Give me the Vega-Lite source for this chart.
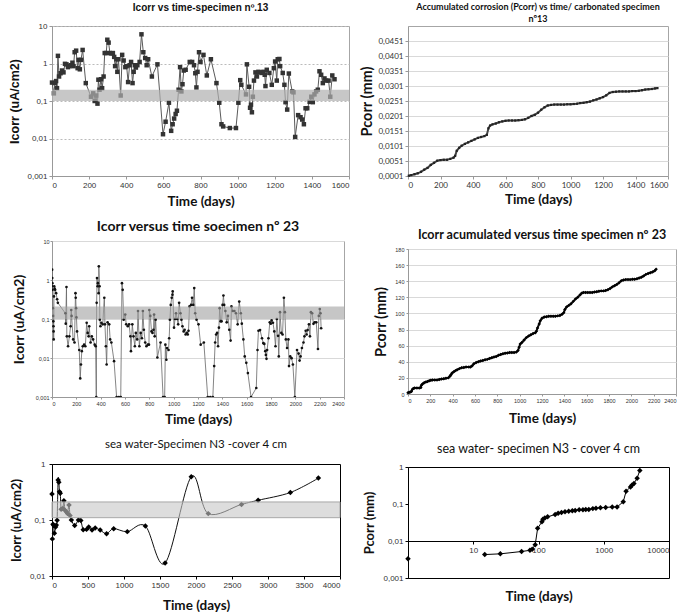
{
  "$schema": "https://vega.github.io/schema/vega-lite/v6.json",
  "padding": {"left": 8, "top": 2, "right": 0, "bottom": 0},
  "background": "white",
  "config": {
    "view": {"stroke": "#a6a6a6", "strokeWidth": 1},
    "axis": {"labelFont": "Liberation Sans", "labelFontSize": 8, "labelColor": "#333", "tickColor": "#999", "domainColor": "#999", "tickSize": 3, "labelPadding": 2, "titleFont": "Lato", "titleFontWeight": "bold", "titleFontSize": 13.5, "titleColor": "#111", "grid": false},
    "title": {"font": "Lato", "fontWeight": "bold", "color": "#111", "frame": "group", "anchor": "middle"}
  },
  "columns": 2,
  "spacing": 9,
  "align": "none",
  "bounds": "full",
  "concat": [
    {
      "columns": 1,
      "spacing": 11,
      "align": "none",
      "bounds": "full",
      "concat": [
        {
          "width": 297, "height": 150,
          "title": {"text": "Icorr vs time-specimen  nº.13", "font": "Liberation Sans", "fontSize": 10, "offset": 9},
          "data": {"values": [
            {"d":0,"v":0.31},{"d":10,"v":0.16},{"d":16,"v":0.3},{"d":22,"v":0.34},{"d":27,"v":0.22},{"d":32,"v":1.6},{"d":38,"v":0.45},{"d":46,"v":0.55},{"d":54,"v":0.65},{"d":62,"v":0.58},{"d":70,"v":0.98},{"d":78,"v":0.95},{"d":86,"v":0.8},{"d":94,"v":0.85},{"d":102,"v":0.9},{"d":110,"v":1.05},{"d":116,"v":0.85},{"d":122,"v":2.0},{"d":130,"v":2.2},{"d":138,"v":0.75},{"d":143,"v":1.25},{"d":150,"v":0.7},{"d":156,"v":1.25},{"d":165,"v":2.3},{"d":182,"v":0.3},{"d":210,"v":0.13},{"d":222,"v":0.16},{"d":230,"v":0.1},{"d":238,"v":0.14},{"d":245,"v":0.085},{"d":250,"v":0.37},{"d":256,"v":0.2},{"d":264,"v":0.38},{"d":270,"v":0.22},{"d":278,"v":0.45},{"d":284,"v":1.9},{"d":292,"v":1.9},{"d":298,"v":4.3},{"d":305,"v":3.6},{"d":312,"v":1.9},{"d":320,"v":1.85},{"d":328,"v":1.9},{"d":335,"v":1.5},{"d":340,"v":0.85},{"d":347,"v":1.3},{"d":352,"v":0.6},{"d":358,"v":1.3},{"d":370,"v":0.14},{"d":378,"v":1.7},{"d":386,"v":1.2},{"d":395,"v":0.8},{"d":402,"v":0.85},{"d":410,"v":0.32},{"d":418,"v":0.9},{"d":426,"v":1.1},{"d":434,"v":0.3},{"d":440,"v":0.6},{"d":446,"v":0.9},{"d":452,"v":0.78},{"d":460,"v":0.9},{"d":472,"v":1.1},{"d":482,"v":6.0},{"d":492,"v":2.0},{"d":502,"v":1.4},{"d":510,"v":0.9},{"d":518,"v":1.3},{"d":538,"v":0.45},{"d":568,"v":0.95},{"d":598,"v":0.013},{"d":612,"v":0.028},{"d":630,"v":0.09},{"d":642,"v":0.016},{"d":650,"v":0.024},{"d":658,"v":0.034},{"d":666,"v":0.045},{"d":673,"v":0.055},{"d":682,"v":0.2},{"d":690,"v":0.8},{"d":697,"v":0.18},{"d":703,"v":0.28},{"d":710,"v":0.65},{"d":720,"v":0.68},{"d":742,"v":1.1},{"d":755,"v":1.1},{"d":765,"v":0.9},{"d":772,"v":0.55},{"d":778,"v":0.23},{"d":784,"v":0.6},{"d":792,"v":2.0},{"d":800,"v":1.1},{"d":816,"v":1.7},{"d":834,"v":0.48},{"d":856,"v":1.3},{"d":886,"v":0.3},{"d":901,"v":0.09},{"d":913,"v":0.024},{"d":922,"v":0.021},{"d":958,"v":0.019},{"d":991,"v":0.019},{"d":1004,"v":0.09},{"d":1014,"v":0.36},{"d":1020,"v":0.27},{"d":1045,"v":0.15},{"d":1050,"v":0.95},{"d":1062,"v":0.24},{"d":1067,"v":0.066},{"d":1072,"v":0.08},{"d":1077,"v":0.05},{"d":1082,"v":0.13},{"d":1088,"v":0.35},{"d":1096,"v":0.58},{"d":1104,"v":0.45},{"d":1112,"v":0.6},{"d":1120,"v":0.58},{"d":1130,"v":0.56},{"d":1139,"v":0.6},{"d":1146,"v":0.5},{"d":1150,"v":0.25},{"d":1157,"v":0.68},{"d":1171,"v":0.56},{"d":1184,"v":0.27},{"d":1195,"v":0.75},{"d":1202,"v":1.13},{"d":1211,"v":0.35},{"d":1216,"v":1.3},{"d":1225,"v":1.32},{"d":1229,"v":0.85},{"d":1243,"v":0.56},{"d":1252,"v":0.27},{"d":1258,"v":0.093},{"d":1267,"v":0.059},{"d":1276,"v":0.54},{"d":1294,"v":0.18},{"d":1301,"v":0.17},{"d":1310,"v":0.011},{"d":1326,"v":0.042},{"d":1339,"v":0.037},{"d":1348,"v":0.032},{"d":1357,"v":0.024},{"d":1366,"v":0.064},{"d":1375,"v":0.064},{"d":1388,"v":0.095},{"d":1397,"v":0.13},{"d":1405,"v":0.093},{"d":1414,"v":0.15},{"d":1423,"v":0.18},{"d":1432,"v":0.2},{"d":1441,"v":0.62},{"d":1450,"v":0.5},{"d":1459,"v":0.3},{"d":1468,"v":0.4},{"d":1477,"v":0.35},{"d":1490,"v":0.35},{"d":1499,"v":0.13},{"d":1510,"v":0.48},{"d":1522,"v":0.38}
          ]},
          "encoding": {
            "x": {"field": "d", "type": "quantitative", "title": "Time (days)", "scale": {"domain": [0, 1600], "nice": false}, "axis": {"values": [0,200,400,600,800,1000,1200,1400,1600], "format": "d", "titlePadding": 5}},
            "y": {"field": "v", "type": "quantitative", "title": "Icorr (uA/cm2)", "scale": {"type": "log", "domain": [0.001, 10]}, "axis": {"values": [0.001,0.01,0.1,1,10], "labelExpr": "replace(toString(datum.value), '.', ',')", "grid": true, "gridDash": [2,2], "gridColor": "#bbbbbb", "titleFont": "Liberation Sans", "titleFontSize": 12.5, "titlePadding": 5}}
          },
          "layer": [
            {"mark": {"type": "line", "color": "#5a5a5a", "strokeWidth": 1}},
            {"mark": {"type": "point", "shape": "square", "filled": true, "size": 20, "color": "#333333", "opacity": 1}},
            {"data": {"values": [{"x0": 0, "x1": 1600, "lo": 0.1, "hi": 0.2}]},
             "mark": {"type": "rect", "color": "#afafaf", "opacity": 0.7},
             "encoding": {"x": {"field": "x0", "type": "quantitative", "title": "Time (days)"}, "x2": {"field": "x1"}, "y": {"field": "lo", "type": "quantitative", "title": "Icorr (uA/cm2)"}, "y2": {"field": "hi"}}}
          ]
        },
        {
          "width": 292, "height": 156,
          "title": {"text": "Icorr versus time soecimen nº 23", "fontSize": 14, "offset": 5},
          "data": {"values": [
            {"d":0,"v":0.69},{"d":1,"v":1.84},{"d":2,"v":1.12},{"d":3,"v":0.83},{"d":5,"v":0.56},{"d":7,"v":0.19},{"d":9,"v":0.12},{"d":11,"v":0.087},{"d":12,"v":0.065},{"d":13,"v":0.048},{"d":14,"v":0.03},{"d":16,"v":0.38},{"d":18,"v":0.69},{"d":22,"v":0.6},{"d":26,"v":0.56},{"d":34,"v":0.46},{"d":42,"v":0.32},{"d":48,"v":0.26},{"d":110,"v":0.14},{"d":113,"v":0.076},{"d":119,"v":0.66},{"d":122,"v":0.036},{"d":132,"v":0.02},{"d":143,"v":0.036},{"d":153,"v":0.065},{"d":158,"v":0.17},{"d":161,"v":0.12},{"d":174,"v":0.03},{"d":185,"v":0.025},{"d":193,"v":0.46},{"d":195,"v":0.35},{"d":198,"v":0.19},{"d":201,"v":0.11},{"d":206,"v":0.048},{"d":224,"v":0.016},{"d":232,"v":0.003},{"d":238,"v":0.0068},{"d":245,"v":0.015},{"d":253,"v":0.02},{"d":264,"v":0.022},{"d":274,"v":0.02},{"d":285,"v":0.08},{"d":293,"v":0.044},{"d":301,"v":0.036},{"d":306,"v":0.065},{"d":317,"v":0.025},{"d":327,"v":0.036},{"d":338,"v":0.03},{"d":351,"v":0.022},{"d":359,"v":0.02},{"d":364,"v":0.001},{"d":367,"v":0.26},{"d":370,"v":1.12},{"d":375,"v":0.69},{"d":377,"v":0.83},{"d":383,"v":0.46},{"d":385,"v":2.24},{"d":391,"v":0.69},{"d":393,"v":0.096},{"d":398,"v":0.065},{"d":406,"v":0.08},{"d":417,"v":0.073},{"d":430,"v":0.35},{"d":435,"v":0.073},{"d":443,"v":0.02},{"d":449,"v":0.0068},{"d":457,"v":0.082},{"d":470,"v":0.073},{"d":478,"v":0.03},{"d":488,"v":0.025},{"d":510,"v":0.0083},{"d":531,"v":0.001},{"d":549,"v":0.001},{"d":565,"v":0.001},{"d":575,"v":0.83},{"d":581,"v":0.56},{"d":589,"v":0.096},{"d":602,"v":0.13},{"d":610,"v":0.073},{"d":623,"v":0.065},{"d":634,"v":0.073},{"d":644,"v":0.036},{"d":649,"v":0.015},{"d":660,"v":0.073},{"d":670,"v":0.036},{"d":681,"v":0.02},{"d":689,"v":0.044},{"d":700,"v":0.03},{"d":707,"v":0.16},{"d":718,"v":0.02},{"d":729,"v":0.044},{"d":739,"v":0.032},{"d":747,"v":0.16},{"d":755,"v":0.053},{"d":766,"v":0.025},{"d":776,"v":0.02},{"d":787,"v":0.022},{"d":797,"v":0.022},{"d":800,"v":0.17},{"d":808,"v":0.12},{"d":818,"v":0.048},{"d":826,"v":0.044},{"d":834,"v":0.053},{"d":839,"v":0.13},{"d":844,"v":0.036},{"d":852,"v":0.096},{"d":866,"v":0.0103},{"d":892,"v":0.025},{"d":913,"v":0.001},{"d":926,"v":0.001},{"d":932,"v":0.022},{"d":940,"v":0.009},{"d":945,"v":0.018},{"d":958,"v":0.016},{"d":963,"v":0.032},{"d":969,"v":0.096},{"d":976,"v":0.23},{"d":984,"v":0.35},{"d":990,"v":0.42},{"d":992,"v":0.51},{"d":1003,"v":0.06},{"d":1011,"v":0.1},{"d":1019,"v":0.14},{"d":1029,"v":0.1},{"d":1037,"v":0.073},{"d":1045,"v":0.26},{"d":1056,"v":0.14},{"d":1064,"v":0.096},{"d":1072,"v":0.065},{"d":1082,"v":0.048},{"d":1090,"v":0.053},{"d":1098,"v":0.04},{"d":1108,"v":0.044},{"d":1116,"v":0.04},{"d":1122,"v":0.05},{"d":1130,"v":0.21},{"d":1143,"v":0.23},{"d":1151,"v":0.35},{"d":1161,"v":0.23},{"d":1169,"v":0.62},{"d":1177,"v":0.14},{"d":1188,"v":0.096},{"d":1204,"v":0.073},{"d":1222,"v":0.022},{"d":1248,"v":0.025},{"d":1280,"v":0.001},{"d":1301,"v":0.001},{"d":1322,"v":0.001},{"d":1333,"v":0.0062},{"d":1341,"v":0.025},{"d":1349,"v":0.04},{"d":1357,"v":0.044},{"d":1365,"v":0.02},{"d":1372,"v":0.06},{"d":1378,"v":0.19},{"d":1386,"v":0.087},{"d":1394,"v":0.087},{"d":1402,"v":0.23},{"d":1409,"v":0.4},{"d":1415,"v":0.23},{"d":1425,"v":0.16},{"d":1436,"v":0.082},{"d":1446,"v":0.12},{"d":1457,"v":0.053},{"d":1468,"v":0.028},{"d":1475,"v":0.21},{"d":1486,"v":0.16},{"d":1499,"v":0.16},{"d":1512,"v":0.14},{"d":1526,"v":0.073},{"d":1539,"v":0.28},{"d":1552,"v":0.14},{"d":1560,"v":0.076},{"d":1573,"v":0.03},{"d":1584,"v":0.011},{"d":1597,"v":0.0075},{"d":1610,"v":0.0041},{"d":1636,"v":0.001},{"d":1679,"v":0.0017},{"d":1689,"v":0.016},{"d":1697,"v":0.05},{"d":1710,"v":0.052},{"d":1726,"v":0.032},{"d":1737,"v":0.024},{"d":1745,"v":0.023},{"d":1753,"v":0.015},{"d":1758,"v":0.012},{"d":1763,"v":0.0095},{"d":1768,"v":0.016},{"d":1779,"v":0.032},{"d":1790,"v":0.082},{"d":1798,"v":0.076},{"d":1805,"v":0.092},{"d":1816,"v":0.08},{"d":1827,"v":0.048},{"d":1837,"v":0.02},{"d":1848,"v":0.1},{"d":1858,"v":0.037},{"d":1864,"v":0.011},{"d":1874,"v":0.15},{"d":1885,"v":0.044},{"d":1895,"v":0.04},{"d":1906,"v":0.35},{"d":1914,"v":0.15},{"d":1922,"v":0.03},{"d":1932,"v":0.018},{"d":1943,"v":0.03},{"d":1948,"v":0.0062},{"d":1958,"v":0.011},{"d":1969,"v":0.0099},{"d":1980,"v":0.0068},{"d":1996,"v":0.001},{"d":2014,"v":0.016},{"d":2027,"v":0.013},{"d":2035,"v":0.0086},{"d":2043,"v":0.011},{"d":2054,"v":0.018},{"d":2067,"v":0.025},{"d":2075,"v":0.036},{"d":2085,"v":0.05},{"d":2093,"v":0.04},{"d":2101,"v":0.052},{"d":2112,"v":0.073},{"d":2120,"v":0.036},{"d":2128,"v":0.15},{"d":2138,"v":0.14},{"d":2149,"v":0.075},{"d":2159,"v":0.082},{"d":2172,"v":0.082},{"d":2186,"v":0.017},{"d":2193,"v":0.12},{"d":2201,"v":0.18},{"d":2207,"v":0.14},{"d":2212,"v":0.058}
          ]},
          "encoding": {
            "x": {"field": "d", "type": "quantitative", "title": "Time (days)", "scale": {"domain": [0, 2400], "nice": false}, "axis": {"values": [0,200,400,600,800,1000,1200,1400,1600,1800,2000,2200,2400], "format": "d", "labelFontSize": 5.5, "tickSize": 2, "titlePadding": 6}},
            "y": {"field": "v", "type": "quantitative", "title": "Icorr (uA/cm2)", "scale": {"type": "log", "domain": [0.001, 10]}, "axis": {"values": [0.001,0.01,0.1,1,10], "labelExpr": "replace(toString(datum.value), '.', ',')", "labelFontSize": 5.5, "labelPadding": 1, "tickSize": 2, "grid": true, "gridColor": "#d9d9d9", "titleFontSize": 14, "titlePadding": 9}}
          },
          "layer": [
            {"mark": {"type": "line", "color": "#666666", "strokeWidth": 0.8, "clip": true}},
            {"mark": {"type": "point", "shape": "circle", "filled": true, "size": 7, "color": "#111111", "opacity": 1, "clip": true}},
            {"data": {"values": [{"x0": 0, "x1": 2400, "lo": 0.1, "hi": 0.21}]},
             "mark": {"type": "rect", "color": "#a0a0a0", "opacity": 0.6},
             "encoding": {"x": {"field": "x0", "type": "quantitative", "title": "Time (days)"}, "x2": {"field": "x1"}, "y": {"field": "lo", "type": "quantitative", "title": "Icorr (uA/cm2)"}, "y2": {"field": "hi"}}}
          ]
        },
        {
          "width": 288, "height": 112,
          "view": {"stroke": "#000000"},
          "title": {"text": "sea water-Specimen N3 -cover 4 cm", "fontSize": 11.5, "fontWeight": "normal", "offset": 10},
          "data": {"values": [
            {"d":0,"v":0.29},{"d":5,"v":0.046},{"d":14,"v":0.084},{"d":25,"v":0.08},{"d":33,"v":0.058},{"d":50,"v":0.075},{"d":60,"v":0.081},{"d":71,"v":0.099},{"d":85,"v":0.52},{"d":95,"v":0.47},{"d":104,"v":0.32},{"d":115,"v":0.3},{"d":127,"v":0.156},{"d":150,"v":0.16},{"d":165,"v":0.22},{"d":180,"v":0.15},{"d":200,"v":0.14},{"d":215,"v":0.13},{"d":236,"v":0.185},{"d":250,"v":0.12},{"d":269,"v":0.1},{"d":315,"v":0.08},{"d":367,"v":0.1},{"d":400,"v":0.098},{"d":433,"v":0.067},{"d":480,"v":0.068},{"d":510,"v":0.075},{"d":556,"v":0.066},{"d":600,"v":0.072},{"d":669,"v":0.066},{"d":758,"v":0.057},{"d":857,"v":0.07},{"d":1046,"v":0.062},{"d":1297,"v":0.078},{"d":1571,"v":0.017},{"d":1934,"v":0.59},{"d":2170,"v":0.13},{"d":2632,"v":0.19},{"d":2863,"v":0.225},{"d":3311,"v":0.31},{"d":3700,"v":0.56}
          ]},
          "encoding": {
            "x": {"field": "d", "type": "quantitative", "title": "Time (days)", "scale": {"domain": [0, 4000], "nice": false}, "axis": {"values": [0,500,1000,1500,2000,2500,3000,3500,4000], "format": "d", "domainColor": "#000", "tickColor": "#000", "titlePadding": 9}},
            "y": {"field": "v", "type": "quantitative", "title": "Icorr (uA/cm2)", "scale": {"type": "log", "domain": [0.01, 1]}, "axis": {"values": [0.01,0.1,1], "labelExpr": "replace(toString(datum.value), '.', ',')", "domainColor": "#000", "tickColor": "#000", "labelPadding": 4, "titleFontSize": 13, "titlePadding": 6}}
          },
          "layer": [
            {"mark": {"type": "line", "color": "#111111", "strokeWidth": 1, "interpolate": "cardinal", "clip": true}},
            {"mark": {"type": "point", "shape": "diamond", "filled": true, "size": 30, "color": "#000000", "opacity": 1}},
            {"data": {"values": [{"x0": 0, "x1": 4000, "lo": 0.11, "hi": 0.21}]},
             "mark": {"type": "rect", "fill": "#c6c6c6", "fillOpacity": 0.6, "stroke": "#a8a8a8", "strokeWidth": 1},
             "encoding": {"x": {"field": "x0", "type": "quantitative", "title": "Time (days)"}, "x2": {"field": "x1"}, "y": {"field": "lo", "type": "quantitative", "title": "Icorr (uA/cm2)"}, "y2": {"field": "hi"}}}
          ]
        }
      ]
    },
    {
      "columns": 1,
      "spacing": 73,
      "align": "none",
      "bounds": "flush",
      "concat": [
        {
          "width": 260, "height": 150,
          "title": {"text": ["Accumulated corrosion (Pcorr) vs time/ carbonated specimen", "nº13"], "fontSize": 9, "lineHeight": 12, "offset": 2},
          "data": {"values": [
            {"d":5,"v":0.0002},{"d":20,"v":0.0004},{"d":40,"v":0.0007},{"d":60,"v":0.001},{"d":80,"v":0.0015},{"d":100,"v":0.0022},{"d":120,"v":0.0028},{"d":140,"v":0.0038},{"d":160,"v":0.0045},{"d":180,"v":0.0052},{"d":200,"v":0.0054},{"d":220,"v":0.0055},{"d":240,"v":0.0055},{"d":260,"v":0.0058},{"d":280,"v":0.0062},{"d":290,"v":0.0068},{"d":300,"v":0.0085},{"d":315,"v":0.0095},{"d":330,"v":0.0102},{"d":350,"v":0.0108},{"d":370,"v":0.0113},{"d":390,"v":0.0118},{"d":410,"v":0.0123},{"d":430,"v":0.0128},{"d":450,"v":0.0131},{"d":470,"v":0.0134},{"d":485,"v":0.0138},{"d":495,"v":0.016},{"d":505,"v":0.0169},{"d":520,"v":0.0173},{"d":540,"v":0.0176},{"d":560,"v":0.018},{"d":580,"v":0.0183},{"d":600,"v":0.0185},{"d":620,"v":0.0186},{"d":640,"v":0.0186},{"d":660,"v":0.0186},{"d":680,"v":0.0187},{"d":700,"v":0.0188},{"d":720,"v":0.019},{"d":740,"v":0.0195},{"d":760,"v":0.0201},{"d":780,"v":0.0205},{"d":800,"v":0.0212},{"d":820,"v":0.0222},{"d":840,"v":0.023},{"d":860,"v":0.0236},{"d":880,"v":0.0238},{"d":900,"v":0.0239},{"d":920,"v":0.0239},{"d":940,"v":0.0239},{"d":960,"v":0.0239},{"d":980,"v":0.024},{"d":1000,"v":0.024},{"d":1020,"v":0.0241},{"d":1040,"v":0.0242},{"d":1060,"v":0.0244},{"d":1080,"v":0.0245},{"d":1100,"v":0.0247},{"d":1120,"v":0.0249},{"d":1140,"v":0.0253},{"d":1160,"v":0.0256},{"d":1180,"v":0.026},{"d":1200,"v":0.0264},{"d":1220,"v":0.027},{"d":1240,"v":0.0278},{"d":1260,"v":0.0281},{"d":1280,"v":0.0282},{"d":1300,"v":0.0283},{"d":1320,"v":0.0283},{"d":1340,"v":0.0283},{"d":1360,"v":0.0283},{"d":1380,"v":0.0284},{"d":1400,"v":0.0284},{"d":1420,"v":0.0285},{"d":1440,"v":0.0287},{"d":1460,"v":0.0289},{"d":1480,"v":0.029},{"d":1500,"v":0.0291},{"d":1520,"v":0.0293},{"d":1535,"v":0.0294}
          ]},
          "encoding": {
            "x": {"field": "d", "type": "quantitative", "title": "Time (days)", "scale": {"domain": [0, 1600], "nice": false}, "axis": {"values": [0,200,400,600,800,1000,1200,1400,1600], "format": "d", "labelFont": "Lato", "titlePadding": 3}},
            "y": {"field": "v", "type": "quantitative", "title": "Pcorr (mm)", "scale": {"domain": [0.0001, 0.0501], "nice": false, "zero": false}, "axis": {"values": [0.0001,0.0051,0.0101,0.0151,0.0201,0.0251,0.0301,0.0351,0.0401,0.0451], "labelExpr": "replace(format(datum.value, '.4f'), '.', ',')", "labelFont": "Lato", "grid": true, "gridColor": "#d9d9d9", "titleFontSize": 14.5, "titlePadding": 3}}
          },
          "layer": [
            {"mark": {"type": "line", "color": "#444444", "strokeWidth": 2}},
            {"mark": {"type": "point", "shape": "square", "filled": true, "size": 5, "color": "#222222", "opacity": 1}}
          ]
        },
        {
          "width": 268, "height": 145,
          "title": {"text": "Icorr acumulated versus time specimen nº 23", "fontSize": 12.5, "offset": 6},
          "data": {"values": [
            {"d":0,"v":1.5},{"d":10,"v":2},{"d":20,"v":2.5},{"d":30,"v":3},{"d":40,"v":6},{"d":50,"v":7},{"d":60,"v":7.5},{"d":80,"v":7.5},{"d":100,"v":7.5},{"d":115,"v":8},{"d":120,"v":11},{"d":130,"v":12.5},{"d":145,"v":14},{"d":160,"v":15},{"d":175,"v":15.5},{"d":190,"v":16.5},{"d":205,"v":17},{"d":220,"v":17.5},{"d":240,"v":17.5},{"d":260,"v":17.5},{"d":280,"v":18},{"d":300,"v":18.5},{"d":320,"v":19},{"d":340,"v":19.5},{"d":360,"v":20},{"d":375,"v":22},{"d":385,"v":24},{"d":395,"v":26},{"d":410,"v":27.5},{"d":425,"v":29},{"d":440,"v":30},{"d":460,"v":31.5},{"d":480,"v":32.5},{"d":500,"v":33},{"d":520,"v":33.5},{"d":545,"v":33.5},{"d":560,"v":33.5},{"d":575,"v":35},{"d":590,"v":37.5},{"d":610,"v":39},{"d":630,"v":40},{"d":650,"v":41},{"d":670,"v":41.5},{"d":690,"v":42.5},{"d":710,"v":43},{"d":730,"v":44},{"d":750,"v":45},{"d":770,"v":46},{"d":790,"v":46.5},{"d":810,"v":48},{"d":830,"v":49},{"d":850,"v":50},{"d":870,"v":50.5},{"d":890,"v":51},{"d":910,"v":51.5},{"d":930,"v":51.5},{"d":950,"v":51.5},{"d":970,"v":52},{"d":985,"v":54},{"d":995,"v":58},{"d":1005,"v":62},{"d":1020,"v":64},{"d":1040,"v":67},{"d":1060,"v":70},{"d":1080,"v":72},{"d":1100,"v":73.5},{"d":1120,"v":75},{"d":1140,"v":76},{"d":1150,"v":78},{"d":1160,"v":82},{"d":1175,"v":87},{"d":1185,"v":91},{"d":1200,"v":94},{"d":1220,"v":95.5},{"d":1240,"v":96},{"d":1260,"v":96.5},{"d":1280,"v":96.5},{"d":1300,"v":96.5},{"d":1320,"v":96.5},{"d":1340,"v":97},{"d":1360,"v":97.5},{"d":1380,"v":99},{"d":1395,"v":101},{"d":1405,"v":105},{"d":1420,"v":108},{"d":1440,"v":110},{"d":1460,"v":112},{"d":1480,"v":115},{"d":1500,"v":118},{"d":1520,"v":120},{"d":1540,"v":123},{"d":1555,"v":125},{"d":1570,"v":126},{"d":1590,"v":126},{"d":1610,"v":126},{"d":1630,"v":126},{"d":1650,"v":126},{"d":1670,"v":126.5},{"d":1690,"v":127},{"d":1710,"v":127.5},{"d":1730,"v":128},{"d":1750,"v":128},{"d":1770,"v":128.5},{"d":1790,"v":129.5},{"d":1810,"v":131},{"d":1830,"v":133},{"d":1850,"v":134.5},{"d":1870,"v":136},{"d":1890,"v":138},{"d":1910,"v":140.5},{"d":1930,"v":141.5},{"d":1950,"v":142},{"d":1970,"v":142},{"d":1990,"v":142},{"d":2010,"v":142.5},{"d":2030,"v":142.5},{"d":2050,"v":143},{"d":2070,"v":144},{"d":2090,"v":145},{"d":2110,"v":146.5},{"d":2130,"v":148.5},{"d":2150,"v":149.5},{"d":2170,"v":150.5},{"d":2190,"v":151.5},{"d":2210,"v":153},{"d":2222,"v":155}
          ]},
          "encoding": {
            "x": {"field": "d", "type": "quantitative", "title": "Time (days)", "scale": {"domain": [0, 2400], "nice": false}, "axis": {"values": [0,200,400,600,800,1000,1200,1400,1600,1800,2000,2200,2400], "format": "d", "labelFontSize": 5.5, "tickSize": 2, "titlePadding": 8}},
            "y": {"field": "v", "type": "quantitative", "title": "Pcorr (mm)", "scale": {"domain": [0, 180], "nice": false}, "axis": {"values": [0,20,40,60,80,100,120,140,160,180], "labelFontSize": 5.5, "tickSize": 2, "grid": true, "gridColor": "#d9d9d9", "titleFontSize": 14.5, "titlePadding": 6}}
          },
          "layer": [
            {"mark": {"type": "line", "color": "#111111", "strokeWidth": 2}},
            {"mark": {"type": "point", "shape": "diamond", "filled": true, "size": 12, "color": "#000000", "opacity": 1}}
          ]
        },
        {
          "width": 261, "height": 111,
          "view": {"stroke": "#000000"},
          "title": {"text": "sea water- specimen N3 - cover 4 cm", "fontSize": 12.5, "fontWeight": "normal", "offset": 8},
          "data": {"values": [
            {"d":1,"v":0.0033},{"d":15,"v":0.0043},{"d":26,"v":0.0045},{"d":55,"v":0.0052},{"d":74,"v":0.0056},{"d":80,"v":0.006},{"d":89,"v":0.0079},{"d":97,"v":0.022},{"d":113,"v":0.033},{"d":117,"v":0.039},{"d":125,"v":0.042},{"d":138,"v":0.045},{"d":180,"v":0.052},{"d":200,"v":0.056},{"d":225,"v":0.059},{"d":255,"v":0.062},{"d":290,"v":0.064},{"d":330,"v":0.066},{"d":365,"v":0.067},{"d":420,"v":0.07},{"d":480,"v":0.07},{"d":530,"v":0.071},{"d":590,"v":0.071},{"d":680,"v":0.075},{"d":760,"v":0.077},{"d":890,"v":0.079},{"d":1070,"v":0.081},{"d":1350,"v":0.083},{"d":1600,"v":0.083},{"d":1990,"v":0.115},{"d":2200,"v":0.22},{"d":2570,"v":0.29},{"d":2700,"v":0.32},{"d":2900,"v":0.36},{"d":3250,"v":0.5},{"d":3570,"v":0.81}
          ]},
          "encoding": {
            "x": {"field": "d", "type": "quantitative", "title": "Time (days)", "scale": {"type": "log", "domain": [1, 10000]}, "axis": {"values": [1,10,100,1000,10000], "labelExpr": "datum.value == 1 ? '' : toString(datum.value)", "offset": -37, "domainColor": "#000", "tickColor": "#000", "titlePadding": 35}},
            "y": {"field": "v", "type": "quantitative", "title": "Pcorr (mm)", "scale": {"type": "log", "domain": [0.001, 1]}, "axis": {"values": [0.001,0.01,0.1,1], "labelExpr": "replace(toString(datum.value), '.', ',')", "domainColor": "#000", "tickColor": "#000", "titleFontSize": 13, "titlePadding": 6}}
          },
          "layer": [
            {"transform": [{"filter": "datum.d > 1"}], "mark": {"type": "line", "color": "#000000", "strokeWidth": 1}},
            {"mark": {"type": "point", "shape": "diamond", "filled": true, "size": 30, "color": "#000000", "opacity": 1}}
          ]
        }
      ]
    }
  ]
}
